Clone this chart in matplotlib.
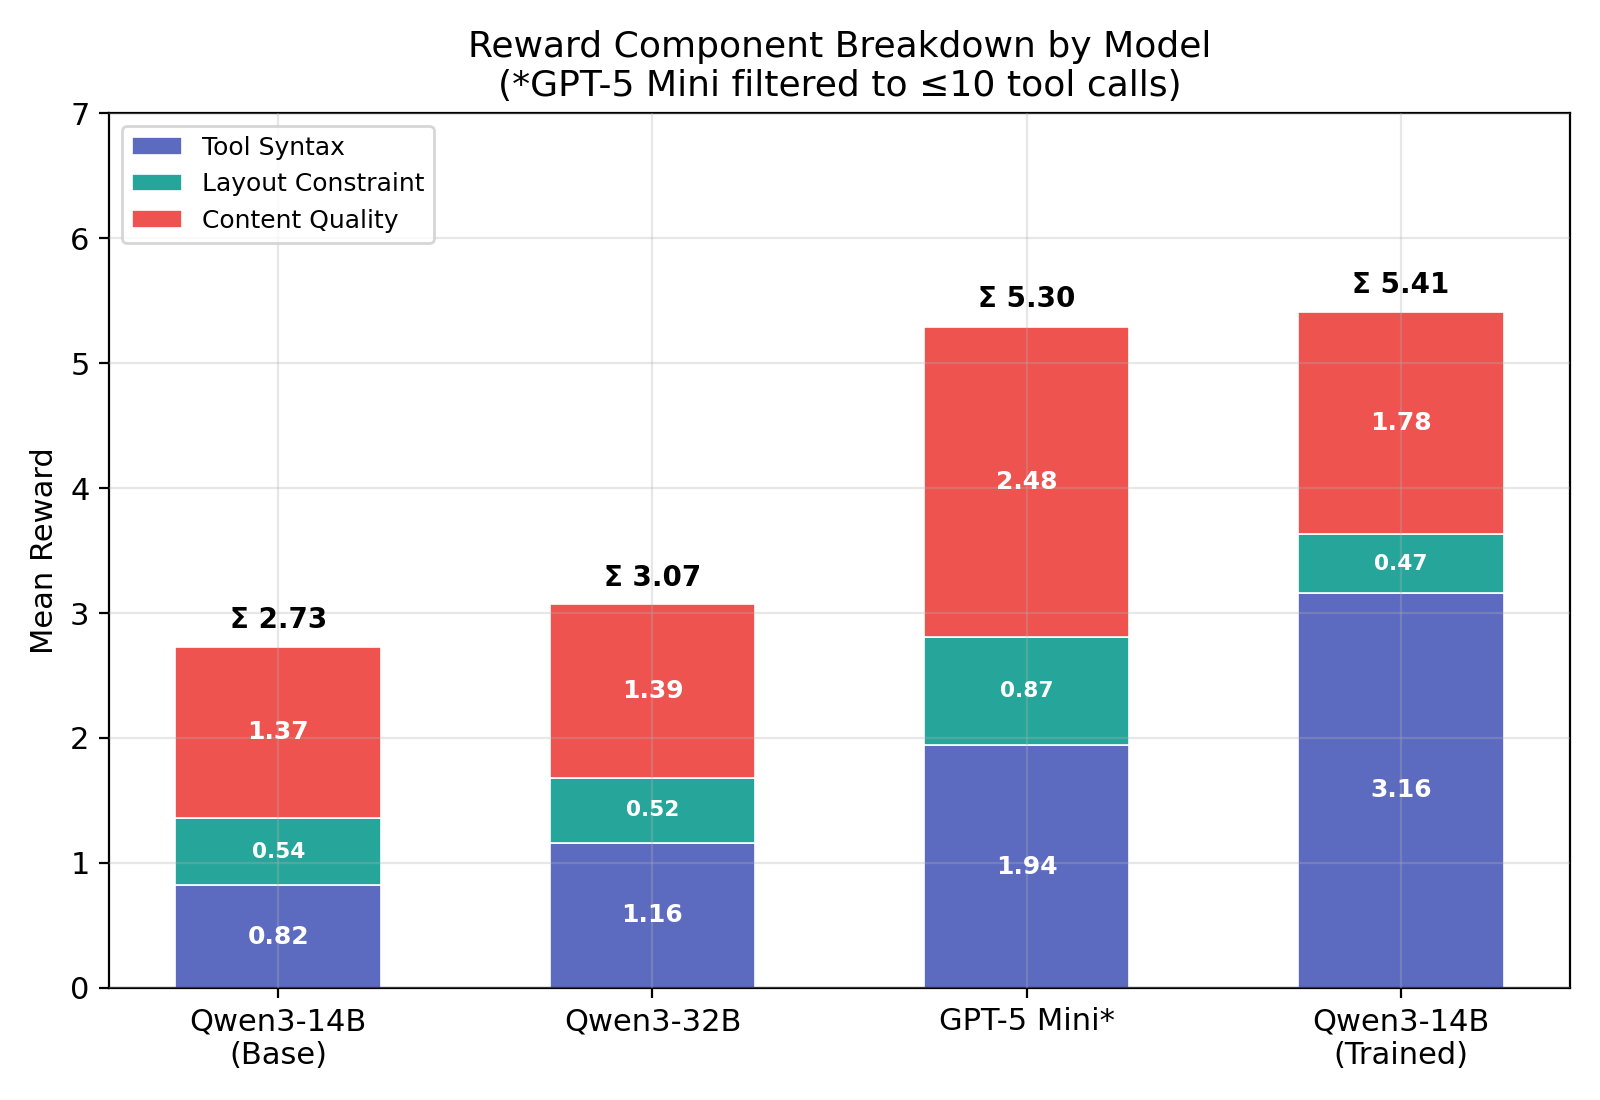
import matplotlib
matplotlib.use("Agg")
import matplotlib.pyplot as plt
import numpy as np

models = ["Qwen3-14B\n(Base)", "Qwen3-32B", "GPT-5 Mini*", "Qwen3-14B\n(Trained)"]
tool_syntax = [0.82, 1.16, 1.94, 3.16]
layout_constraint = [0.54, 0.52, 0.87, 0.47]
content_quality = [1.37, 1.39, 2.48, 1.78]
totals = [2.73, 3.07, 5.30, 5.41]

c_tool = "#5C6BC0"
c_layout = "#26A69A"
c_content = "#EF5350"

fig, ax = plt.subplots(figsize=(8, 5.5), dpi=200)
x = np.arange(len(models))
w = 0.55
ts = np.array(tool_syntax)
lc = np.array(layout_constraint)
cq = np.array(content_quality)

ax.bar(x, ts, w, color=c_tool, edgecolor="white", linewidth=0.6, label="Tool Syntax")
ax.bar(x, lc, w, bottom=ts, color=c_layout, edgecolor="white", linewidth=0.6, label="Layout Constraint")
ax.bar(x, cq, w, bottom=ts + lc, color=c_content, edgecolor="white", linewidth=0.6, label="Content Quality")

for i in range(len(models)):
    ax.text(x[i], ts[i] / 2, f"{ts[i]:.2f}", ha="center", va="center", color="white", fontweight="bold", fontsize=9)
    ax.text(x[i], ts[i] + lc[i] / 2, f"{lc[i]:.2f}", ha="center", va="center", color="white", fontweight="bold", fontsize=7.8)
    ax.text(x[i], ts[i] + lc[i] + cq[i] / 2, f"{cq[i]:.2f}", ha="center", va="center", color="white", fontweight="bold", fontsize=9)
    ax.text(x[i], totals[i] + 0.1, f"Σ {totals[i]:.2f}", ha="center", va="bottom", color="black", fontweight="bold", fontsize=10)

ax.set_xticks(x)
ax.set_xticklabels(models, fontsize=11)
ax.set_ylim(0, 7)
ax.tick_params(axis="y", labelsize=11)
ax.set_ylabel("Mean Reward", fontsize=11)
ax.set_title("Reward Component Breakdown by Model\n(*GPT-5 Mini filtered to ≤10 tool calls)", fontsize=13)
ax.grid(True, alpha=0.3)
ax.set_axisbelow(False)
ax.legend(loc="upper left", fontsize=9)

fig.tight_layout()
fig.savefig("out.png", dpi=200)
